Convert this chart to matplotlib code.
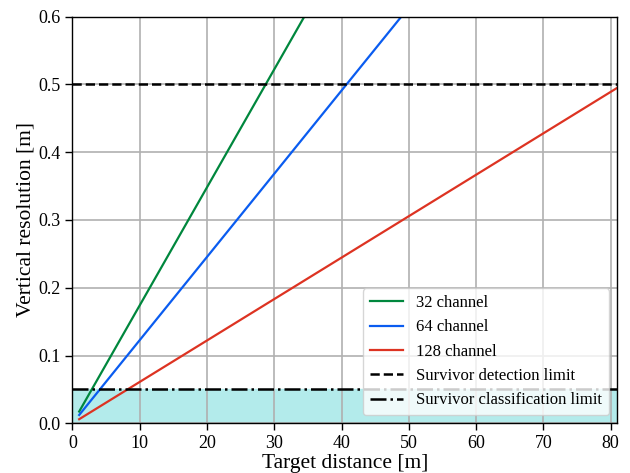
import matplotlib
matplotlib.use("Agg")
import matplotlib.pyplot as plt

# target distance [m] at the two ends of each line
distance = [1, 81]
res_32 = [0.0174, 1.41]
res_64 = [0.0123, 0.994]
res_128 = [0.0061, 0.495]

detection_limit = 0.5
classification_limit = 0.05

plt.rcParams["font.family"] = ["Liberation Serif", "DejaVu Serif"]
plt.rcParams["mathtext.fontset"] = "stix"

fig, ax = plt.subplots(figsize=(6.3, 4.73), dpi=100)

ax.fill_between([0, 81], 0, classification_limit, color="#b3ebeb", zorder=1)

ax.plot(distance, res_32, color="#00873d", lw=1.6, label="32 channel")
ax.plot(distance, res_64, color="#0a5cf0", lw=1.6, label="64 channel")
ax.plot(distance, res_128, color="#dd3322", lw=1.6, label="128 channel")
ax.axhline(detection_limit, color="k", ls="--", lw=1.8, label="Survivor detection limit")
ax.axhline(classification_limit, color="k", ls="-.", lw=1.8,
           label="Survivor classification limit")

ax.set_xlim(0, 81)
ax.set_ylim(0, 0.6)
ax.set_xticks(range(0, 81, 10))
ax.set_yticks([0.0, 0.1, 0.2, 0.3, 0.4, 0.5, 0.6])
ax.grid(True, color="#b0b0b0", lw=1.2)
ax.tick_params(labelsize=13, width=1.0, length=5)
for s in ax.spines.values():
    s.set_linewidth(1.0)

ax.set_xlabel("Target distance [m]", fontsize=15.5, labelpad=1)
ax.set_ylabel("Vertical resolution [m]", fontsize=15.5, labelpad=2)
ax.legend(loc="lower right", fontsize=12, borderaxespad=0.5)

plt.subplots_adjust(left=0.115, right=0.98, top=0.965, bottom=0.105)
plt.savefig("out.png", dpi=100)
